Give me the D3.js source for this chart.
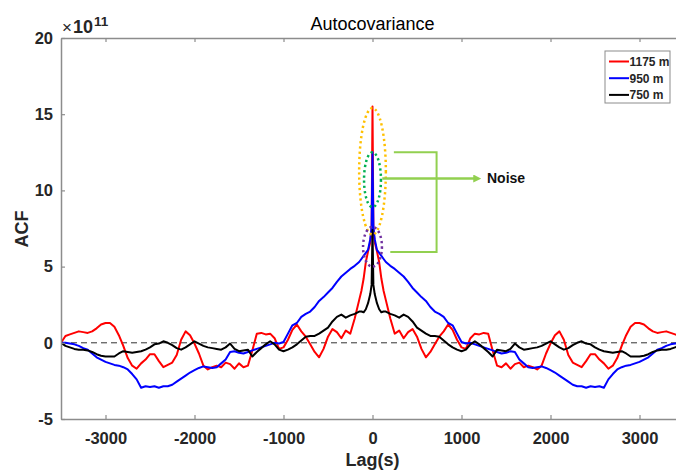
<!DOCTYPE html>
<html>
<head>
<meta charset="utf-8">
<script src="https://cdn.jsdelivr.net/npm/d3@7"></script>
<style>
  html, body { margin: 0; padding: 0; background: #fff; }
  svg { display: block; font-family: "Liberation Sans", Arial, sans-serif; }
</style>
</head>
<body>
<svg id="chart"></svg>
<script>
// positive lags (s); the autocovariance is symmetric, negative side is the mirror
const lags = [0, 10, 25, 50, 75, 100, 125, 150,
  200, 250, 300, 350, 400, 450, 500, 550, 600, 650,
  700, 750, 800, 850, 900, 950, 1000, 1050, 1100, 1150,
  1200, 1250, 1300, 1350, 1400, 1450, 1500, 1550, 1600, 1650,
  1700, 1750, 1800, 1850, 1900, 1950, 2000, 2050, 2100, 2150,
  2200, 2250, 2300, 2350, 2400, 2450, 2500, 2550, 2600, 2650,
  2700, 2750, 2800, 2850, 2900, 2950, 3000, 3050, 3100, 3150,
  3200, 3250, 3300, 3350, 3400, 3450, 3500];

// values in units of 1e11
const acf1175 = [15.5, 7.4, 6.6, 6.0, 5.3, 4.2, 3.4, 2.8,
  1.6, 0.6, 0.8, 0.3, 0.7, 0.9, 0.4, -0.4, -0.95, -0.6,
  -0.1, 0.4, 0.75, 1.2, 0.85, 0.2, -0.3, -0.4, 0.3, 0.6,
  0.55, 0.65, 0.6, -0.5, -1.5, -1.6, -1.35, -1.7, -1.4, -1.3,
  -1.6, -1.5, -1.6, -1.75, -1.5, -0.7, -0.05, 0.5, 0.75, 0.2,
  -0.8, -1.3, -1.45, -1.6, -1.2, -0.75, -0.75, -1.1, -1.35, -1.7,
  -1.5, -1.0, -0.2, 0.5, 1.05, 1.3, 1.3, 1.2, 0.95, 0.75,
  0.65, 0.7, 0.75, 0.65, 0.55, 0.45, 0.0];

const acf950 = [12.5, 7.6, 6.8, 6.1, 5.9, 5.7, 5.5, 5.3,
  5.05, 4.85, 4.6, 4.35, 4.0, 3.6, 3.3, 3.0, 2.75, 2.35,
  2.05, 1.9, 1.7, 1.3, 1.15, 0.6, 0.05, -0.05, 0.0, -0.1,
  -0.2, -0.3, -0.4, -0.5, -0.6, -0.7, -0.65, -0.55, -0.6, -1.1,
  -1.35, -1.6, -1.65, -1.6, -1.55, -1.65, -1.8, -1.95, -2.15, -2.35,
  -2.55, -2.75, -2.85, -2.85, -2.95, -2.85, -2.9, -2.85, -2.95, -2.4,
  -2.05, -1.75, -1.6, -1.5, -1.45, -1.35, -1.25, -1.1, -0.95, -0.7,
  -0.45, -0.35, -0.2, -0.1, -0.05, 0.0, 0.0];

const acf750 = [7.4, 3.8, 3.2, 2.6, 2.2, 2.0, 2.05, 2.05,
  1.9, 1.8, 1.65, 1.85, 1.7, 1.4, 1.0, 0.8, 0.6, 0.45,
  0.45, 0.4, 0.15, -0.1, -0.3, -0.45, -0.55, -0.45, -0.1, 0.1,
  -0.1, -0.35, -0.6, -0.9, -0.45, -0.5, -0.55, -0.4, -0.05, -0.3,
  -0.45, -0.4, -0.35, -0.3, -0.2, -0.05, 0.1, -0.1, -0.3, -0.45,
  -0.35, -0.15, 0.0, 0.1, -0.05, -0.1, -0.3, -0.45, -0.55, -0.6,
  -0.65, -0.6, -0.55, -0.7, -0.9, -0.9, -0.9, -0.85, -0.75, -0.6,
  -0.5, -0.45, -0.45, -0.4, -0.3, -0.2, 0.0];

const seriesNames = ["1175 m", "950 m", "750 m"];
const seriesColors = ["#ff0000", "#0000ff", "#000000"];
const xTicks = [-3000, -2000, -1000, 0, 1000, 2000, 3000];
const yTicks = [-5, 0, 5, 10, 15, 20];

const width = 676, height = 473;
const plotLeft = 61, plotRight = 684, plotTop = 38, plotBottom = 419;

const svg = d3.select("#chart")
    .attr("width", width)
    .attr("height", height);

svg.append("rect").attr("width", width).attr("height", height).attr("fill", "#fff");

const x = d3.scaleLinear().domain([-3500, 3500]).range([plotLeft, plotRight]);
const y = d3.scaleLinear().domain([-5, 20]).range([plotBottom, plotTop]);

// mirror the positive side to get the full lag range
const mirror = (vals) => {
    const neg = lags.slice(1).map((l, i) => [-l, vals[i + 1]]).reverse();
    const pos = lags.map((l, i) => [l, vals[i]]);
    return neg.concat(pos);
}
const series = [acf1175, acf950, acf750].map(mirror);

svg.append("clipPath").attr("id", "clip")
    .append("rect")
    .attr("x", plotLeft).attr("y", plotTop)
    .attr("width", plotRight - plotLeft).attr("height", plotBottom - plotTop);

// zero reference
svg.append("line")
    .attr("x1", x(-3500)).attr("x2", x(3500))
    .attr("y1", y(0)).attr("y2", y(0))
    .attr("stroke", "#333")
    .attr("stroke-width", 1)
    .attr("stroke-dasharray", "6,4");

const line = d3.line()
    .x(d => x(d[0]))
    .y(d => y(d[1]));

svg.append("g")
    .attr("clip-path", "url(#clip)")
    .selectAll("path")
    .data(series)
    .enter()
    .append("path")
    .attr("d", line)
    .attr("fill", "none")
    .attr("stroke", (d, i) => seriesColors[i])
    .attr("stroke-width", 2)
    .attr("stroke-linejoin", "round");

// axes
const axisColor = "#8c8c8c";
const labelColor = "#262626";
const plain = d => String(d);

const styleAxis = (g) => {
    g.select(".domain").attr("stroke", axisColor).attr("stroke-width", 1.5);
    g.selectAll(".tick line").attr("stroke", axisColor).attr("stroke-width", 1.2);
    g.selectAll(".tick text")
        .attr("fill", labelColor)
        .style("font-size", "16.5px")
        .style("font-weight", "bold");
}

svg.append("g")
    .attr("transform", "translate(0," + plotBottom + ")")
    .call(d3.axisBottom(x).tickValues(xTicks).tickFormat(plain).tickSizeInner(-4).tickSizeOuter(0).tickPadding(13))
    .call(styleAxis);

svg.append("g")
    .attr("transform", "translate(0," + plotTop + ")")
    .call(d3.axisTop(x).tickValues(xTicks).tickSizeInner(-4).tickSizeOuter(0).tickFormat(""))
    .call(styleAxis);

svg.append("g")
    .attr("transform", "translate(" + plotLeft + ",0)")
    .call(d3.axisLeft(y).tickValues(yTicks).tickFormat(plain).tickSizeInner(-4).tickSizeOuter(0).tickPadding(8))
    .call(styleAxis);

svg.append("g")
    .attr("transform", "translate(" + plotRight + ",0)")
    .call(d3.axisRight(y).tickValues(yTicks).tickSizeInner(-4).tickSizeOuter(0).tickFormat(""))
    .call(styleAxis);

// texts
svg.append("text")
    .attr("x", (plotLeft + plotRight) / 2)
    .attr("y", 30)
    .attr("text-anchor", "middle")
    .style("font-size", "18px")
    .style("fill", "#000")
    .text("Autocovariance");

const expo = svg.append("text")
    .attr("x", 62)
    .attr("y", 33)
    .style("fill", labelColor)
    .style("font-size", "17px");
expo.append("tspan").text("\u00d7");
expo.append("tspan").attr("dx", 1).style("font-weight", "bold").style("font-size", "18px").text("10");
expo.append("tspan").attr("dx", 1).attr("dy", -7).style("font-size", "13.5px").style("font-weight", "bold").text("11");

svg.append("text")
    .attr("transform", "rotate(-90)")
    .attr("x", -229)
    .attr("y", 28)
    .attr("text-anchor", "middle")
    .style("font-size", "18px")
    .style("font-weight", "bold")
    .style("fill", labelColor)
    .text("ACF");

svg.append("text")
    .attr("x", (plotLeft + plotRight) / 2)
    .attr("y", 466)
    .attr("text-anchor", "middle")
    .style("font-size", "18px")
    .style("font-weight", "bold")
    .style("fill", labelColor)
    .text("Lag(s)");

// legend
const legend = svg.append("g").attr("transform", "translate(605,51)");
legend.append("rect")
    .attr("width", 65).attr("height", 52)
    .attr("fill", "#fff")
    .attr("stroke", axisColor)
    .attr("stroke-width", 1);
seriesNames.forEach((name, i) => {
    const ly = 10.5 + i * 16.7;
    legend.append("line")
        .attr("x1", 4).attr("x2", 24)
        .attr("y1", ly).attr("y2", ly)
        .attr("stroke", seriesColors[i])
        .attr("stroke-width", 2);
    legend.append("text")
        .attr("x", 24.5).attr("y", ly + 4.3)
        .style("font-size", "12px")
        .style("font-weight", "bold")
        .style("fill", labelColor)
        .text(name);
});

// noise annotation: dotted ellipses round the peaks, bracket and arrow
const ellipses = [
    { cx: 0, cy: 11.25, rx: 150, ry: 4.15, color: "#ffc000" },
    { cx: 0, cy: 10.7, rx: 95, ry: 1.8, color: "#00b050" },
    { cx: 0, cy: 6.3, rx: 106, ry: 1.3, color: "#7030a0" }
];
svg.append("g")
    .selectAll("ellipse")
    .data(ellipses)
    .enter()
    .append("ellipse")
    .attr("cx", d => x(d.cx))
    .attr("cy", d => y(d.cy))
    .attr("rx", d => x(d.rx) - x(0))
    .attr("ry", d => y(0) - y(d.ry))
    .attr("fill", "none")
    .attr("stroke", d => d.color)
    .attr("stroke-width", 2.5)
    .attr("stroke-dasharray", "2.2,3");

const green = "#92d050";
svg.append("path")
    .attr("d", "M" + x(240) + "," + y(12.5) + "H" + x(720) + "V" + y(5.95) + "H" + x(200))
    .attr("fill", "none")
    .attr("stroke", green)
    .attr("stroke-width", 2);

svg.append("defs").append("marker")
    .attr("id", "head")
    .attr("viewBox", "0 0 10 10")
    .attr("refX", 2).attr("refY", 5)
    .attr("markerWidth", 3.2).attr("markerHeight", 3.2)
    .attr("orient", "auto")
    .append("path")
    .attr("d", "M0,0L10,5L0,10Z")
    .attr("fill", green);

svg.append("line")
    .attr("x1", x(110)).attr("x2", x(1150))
    .attr("y1", y(10.78)).attr("y2", y(10.78))
    .attr("stroke", green)
    .attr("stroke-width", 2.5)
    .attr("marker-end", "url(#head)");

svg.append("text")
    .attr("x", 487)
    .attr("y", 183)
    .style("font-size", "14px")
    .style("font-weight", "bold")
    .style("fill", "#111")
    .text("Noise");
</script>
</body>
</html>
